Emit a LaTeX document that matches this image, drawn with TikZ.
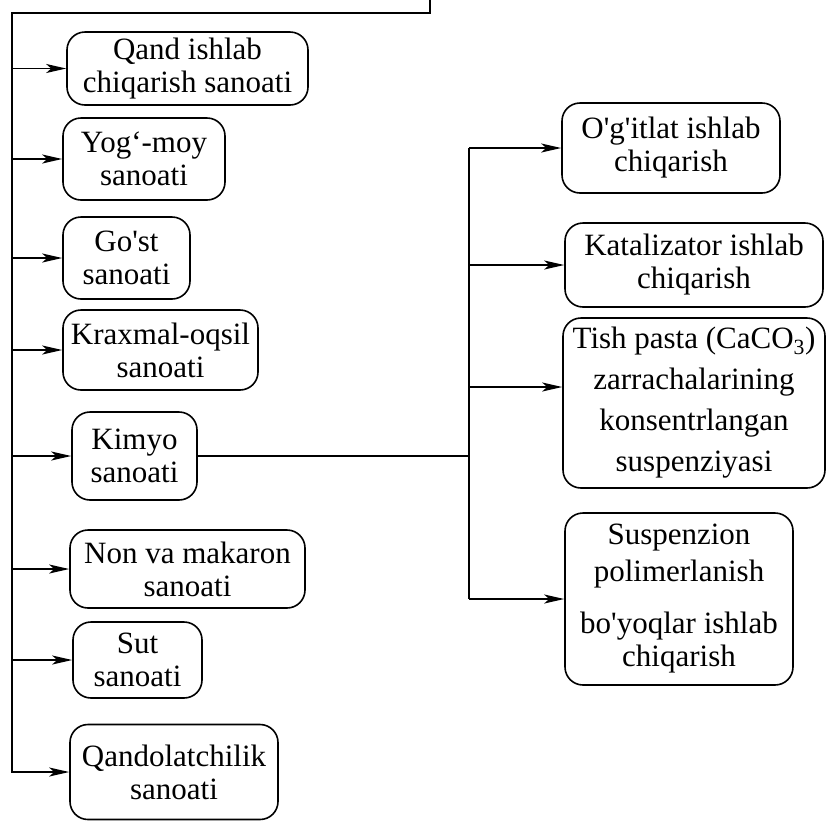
\documentclass[tikz,border=0pt]{standalone}
\usepackage{fontspec}
\setmainfont{Liberation Serif}
\usetikzlibrary{arrows.meta}
\begin{document}
\begin{tikzpicture}[x=1pt,y=-1pt,
    box/.style={draw,line width=1.6pt,rounded corners=18pt,align=center,
        inner sep=0pt,font=\fontsize{31}{33}\selectfont},
    feed/.style={line width=1.8pt,-{Stealth[length=20pt,width=9pt,inset=5pt]}}]
    \useasboundingbox (0,0) rectangle (826,823);
    % parametri
    \def\bx{12}
    \def\rx{469}

    % colonna sinistra
    \node[box,minimum width=241,minimum height=73] (qand) at (187.5,68.5) {Qand ishlab\\chiqarish sanoati};
    \node[box,minimum width=162,minimum height=82] (yog) at (144,159) {Yog‘-moy\\sanoati};
    \node[box,minimum width=127,minimum height=82] (gosht) at (126.5,258) {Go\textquotesingle st\\sanoati};
    \node[box,minimum width=195,minimum height=80] (kraxmal) at (160.5,350) {Kraxmal-oqsil\\sanoati};
    \node[box,minimum width=125,minimum height=88] (kimyo) at (134.5,456) {Kimyo\\sanoati};
    \node[box,minimum width=235,minimum height=78] (non) at (187.5,569) {Non va makaron\\sanoati};
    \node[box,minimum width=129,minimum height=76] (sut) at (137.5,660) {Sut\\sanoati};
    \node[box,minimum width=208,minimum height=95] (qandol) at (174,772) {Qandolatchilik\\sanoati};

    % colonna destra
    \node[box,minimum width=218,minimum height=90] (ogit) at (671,148) {O\textquotesingle g\textquotesingle itlat ishlab\\chiqarish};
    \node[box,minimum width=258,minimum height=84] (katal) at (694,265) {Katalizator ishlab\\chiqarish};
    \node[box,minimum width=262,minimum height=170] (tish) at (694,403) {Tish pasta (CaCO\textsubscript{3})\\[8pt]zarrachalarining\\[8pt]konsentrlangan\\[8pt]suspenziyasi};
    \node[box,minimum width=228,minimum height=172] (susp) at (679,599) {Suspenzion\\[4pt]polimerlanish\\[19pt]bo\textquotesingle yoqlar ishlab\\chiqarish};

    % linea principale
    \coordinate (top) at (\bx,13);
    \coordinate (topR) at (430,13);
    \coordinate (topEnd) at (430,0);
    \draw[feed] (topEnd) -- (topR) -- (top) -- (top |- qandol.west) -- (qandol.west);
    \foreach \b in {qand,yog,gosht,kraxmal,kimyo,non,sut}
        \draw[feed] (top |- \b.west) -- (\b.west);

    % rami di kimyo
    \coordinate (rbus) at (\rx,0);
    \draw[line width=1.8pt] (kimyo.east) -- (kimyo.east -| rbus);
    \draw[line width=1.8pt] (ogit.west -| rbus) -- (susp.west -| rbus);
    \foreach \b in {ogit,katal,susp}
        \draw[feed] (\b.west -| rbus) -- (\b.west);
    \draw[feed] ([yshift=16pt]tish.west -| rbus) -- ([yshift=16pt]tish.west);
\end{tikzpicture}
\end{document}
